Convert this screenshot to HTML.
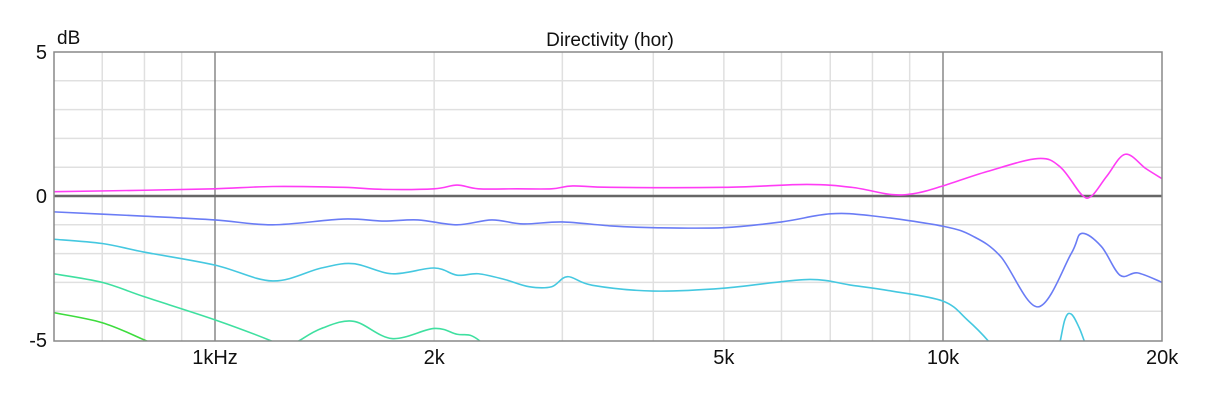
<!DOCTYPE html>
<html><head><meta charset="utf-8"><style>
body{margin:0;background:#fff;font-family:"Liberation Sans",sans-serif}
svg text{font-family:"Liberation Sans",sans-serif;fill:#111}
</style></head><body>
<svg id="chart" width="1227" height="402" xmlns="http://www.w3.org/2000/svg">
<defs><clipPath id="pc"><rect x="54" y="52" width="1108" height="289"/></clipPath></defs>
<g id="grid"></g>
<g id="series" clip-path="url(#pc)"></g>
<rect x="54" y="52" width="1108" height="289" fill="none" stroke="#888" stroke-width="1.5"/>
<text x="610" y="46" font-size="19" text-anchor="middle">Directivity (hor)</text>
<text x="57" y="44" font-size="19">dB</text>
<g id="labels"></g>
</svg>
<script>
const yTickValues=[5,0,-5];
const yTickLabels=["5","0","-5"];
const xTickValues=[1000,2000,5000,10000,20000];
const xTickLabels=["1kHz","2k","5k","10k","20k"];
const gridFreqs=[700,800,900,1000,2000,3000,4000,5000,6000,7000,8000,9000,10000];
const magFreq=[600,800,1000,1200,1500,1700,2000,2150,2300,2600,2900,3100,3500,5000,6500,7500,8500,9200,10000,11500,13500,14500,15500,16000,16800,17800,19000,20000];
const magDb=[0.15,0.2,0.25,0.33,0.3,0.23,0.25,0.38,0.25,0.25,0.25,0.35,0.3,0.3,0.4,0.3,0.05,0.1,0.35,0.85,1.3,1.0,0.05,0.0,0.7,1.45,0.95,0.6];
const blueFreq=[600,800,1000,1200,1500,1700,1900,2150,2400,2650,3000,3500,4000,5000,6000,7000,8000,10000,11000,12000,13500,15000,15500,16500,17500,18500,20000];
const blueDb=[-0.55,-0.7,-0.83,-1.0,-0.8,-0.87,-0.83,-1.0,-0.83,-0.97,-0.9,-1.04,-1.1,-1.1,-0.9,-0.62,-0.69,-1.05,-1.4,-2.1,-3.85,-2.0,-1.3,-1.75,-2.75,-2.67,-3.0];
const cyanFreq=[600,700,800,1000,1200,1400,1550,1750,2000,2150,2300,2500,2700,2900,3050,3300,4000,5000,6500,7500,8500,10000,10800,11600,12300,13500,14300,14700,15000,15400,15900,17000,20000];
const cyanDb=[-1.5,-1.65,-1.95,-2.4,-2.95,-2.5,-2.35,-2.7,-2.5,-2.75,-2.7,-2.9,-3.15,-3.15,-2.8,-3.1,-3.3,-3.2,-2.9,-3.1,-3.3,-3.65,-4.3,-5.1,-6,-7,-5.6,-4.3,-4.1,-4.6,-5.5,-7,-8];
const teaFreq=[600,700,800,1000,1200,1250,1300,1400,1550,1750,2000,2150,2250,2350,2500];
const teaDb=[-2.7,-3.0,-3.5,-4.3,-5.05,-5.3,-5.05,-4.6,-4.35,-4.95,-4.6,-4.8,-4.85,-5.2,-6];
const grnFreq=[600,700,800,900,1000];
const grnDb=[-4.05,-4.4,-5.0,-5.6,-6.2];
const X0=54,X1=1162,Y0=52,Y1=341;
const xs=f=>215+728*Math.log10(f/1000);
const ys=d=>196-d*28.8;
const NS="http://www.w3.org/2000/svg";
function mk(t,a,p){const e=document.createElementNS(NS,t);for(const k in a)e.setAttribute(k,a[k]);p.appendChild(e);return e;}
const grid=document.getElementById('grid');
for(let d=-4;d<=4;d++){if(d===0)continue;
 const l=mk('line',{x1:X0,x2:X1,y1:ys(d),y2:ys(d),stroke:'#e0e0e0','stroke-width':1.5},grid);
 
 }
gridFreqs.forEach(f=>{const dark=(f===1000||f===10000);
 const l=mk('line',{x1:xs(f),x2:xs(f),y1:Y0,y2:Y1,stroke:dark?'#777':'#e0e0e0','stroke-width':dark?1.3:1.5},grid);
 
 });
const zl=mk('line',{x1:X0,x2:X1,y1:ys(0),y2:ys(0),stroke:'#666','stroke-width':2.5},grid);


const lab=document.getElementById('labels');
yTickValues.forEach((v,i)=>{const t=mk('text',{x:47,y:ys(v)+7,'font-size':20,'text-anchor':'end'},lab);t.textContent=yTickLabels[i];
 
 });
xTickValues.forEach((v,i)=>{const t=mk('text',{x:xs(v),y:364,'font-size':20,'text-anchor':'middle'},lab);t.textContent=xTickLabels[i];
 
 });
function path(fr,db){const p=fr.map((f,i)=>[xs(f),ys(db[i])]);let d='M'+p[0][0]+','+p[0][1];
 for(let i=0;i<p.length-1;i++){const a=p[Math.max(0,i-1)],b=p[i],c=p[i+1],e=p[Math.min(p.length-1,i+2)];
  d+=` C${b[0]+(c[0]-a[0])/6},${b[1]+(c[1]-a[1])/6} ${c[0]-(e[0]-b[0])/6},${c[1]-(e[1]-b[1])/6} ${c[0]},${c[1]}`;}
 return d;}
const sg=document.getElementById('series');
[[grnFreq,grnDb,'#3ddc3d','series-60deg'],[teaFreq,teaDb,'#3fe0a0','series-45deg'],[cyanFreq,cyanDb,'#45c8e0','series-30deg'],[blueFreq,blueDb,'#6a7cf5','series-15deg'],[magFreq,magDb,'#ff3cf5','series-0deg']].forEach(s=>{
 const p=mk('path',{d:path(s[0],s[1]),fill:'none',stroke:s[2],'stroke-width':1.6},sg);
 
 });
</script>
</body></html>
